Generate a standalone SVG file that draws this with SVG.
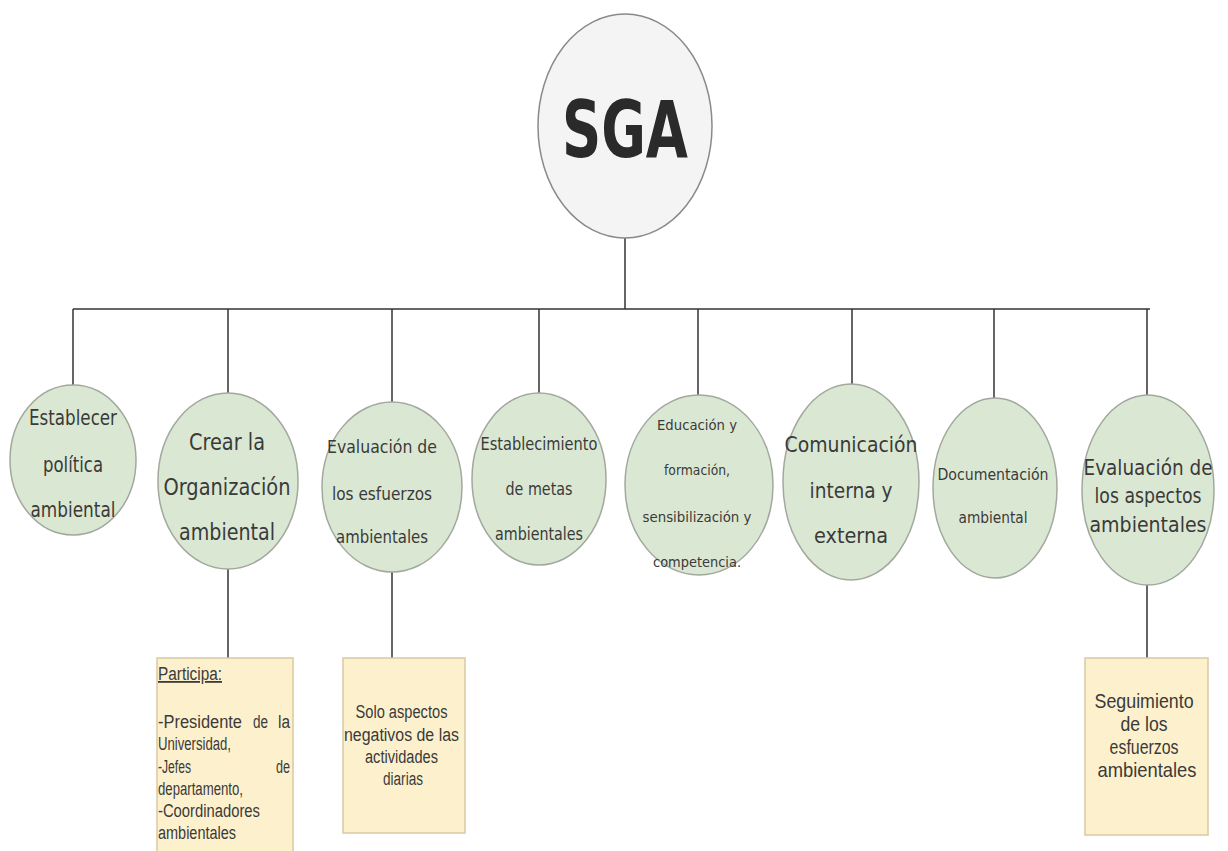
<svg xmlns="http://www.w3.org/2000/svg" width="1228" height="851" viewBox="0 0 1228 851">
<style>
.n{fill:#dae8d3;stroke:#a2a89e;stroke-width:1.5}
.root{fill:#f4f4f4;stroke:#8a8a8a;stroke-width:1.5}
.b{fill:#fdf1cd;stroke:#d8c9a2;stroke-width:1.5}
.t{font-family:"DejaVu Sans Condensed","DejaVu Sans",sans-serif;fill:#3a3a3a;text-anchor:middle}
.bt{font-family:"Liberation Sans",Arial,sans-serif;fill:#3a3a3a}
.c line{stroke:#333;stroke-width:1.5}
</style>
<rect width="1228" height="851" fill="#ffffff"/>
<g class="c" id="connectors">
<line x1="625" y1="238" x2="625" y2="309"/>
<line x1="73" y1="309" x2="1150" y2="309"/>
<line x1="73" y1="309" x2="73" y2="385"/>
<line x1="228" y1="309" x2="228" y2="393"/>
<line x1="392" y1="309" x2="392" y2="403"/>
<line x1="539" y1="309" x2="539" y2="393"/>
<line x1="698" y1="309" x2="698" y2="395"/>
<line x1="852" y1="309" x2="852" y2="384"/>
<line x1="994" y1="309" x2="994" y2="398"/>
<line x1="1147" y1="309" x2="1147" y2="395"/>
<line x1="228" y1="569" x2="228" y2="658"/>
<line x1="392" y1="572" x2="392" y2="658"/>
<line x1="1147" y1="585" x2="1147" y2="658"/>
</g>
<g id="sga">
<ellipse class="root" cx="625" cy="126" rx="87" ry="112"/>
<text x="625" y="157" font-family="'DejaVu Sans',sans-serif" font-weight="bold" font-size="78" fill="#2a2a2a" text-anchor="middle" textLength="126" lengthAdjust="spacingAndGlyphs">SGA</text>
</g>
<g id="n1">
<ellipse class="n" cx="73" cy="460" rx="63" ry="75"/>
<text class="t" font-size="21"><tspan x="73" y="425" textLength="88" lengthAdjust="spacingAndGlyphs">Establecer</tspan><tspan x="73" y="472" textLength="60" lengthAdjust="spacingAndGlyphs">política</tspan><tspan x="73" y="517" textLength="85" lengthAdjust="spacingAndGlyphs">ambiental</tspan></text>
</g>
<g id="n2">
<ellipse class="n" cx="228" cy="481" rx="70" ry="88"/>
<text class="t" font-size="23"><tspan x="227" y="450" textLength="76" lengthAdjust="spacingAndGlyphs">Crear la</tspan><tspan x="227" y="495" textLength="127" lengthAdjust="spacingAndGlyphs">Organización</tspan><tspan x="227" y="540" textLength="96" lengthAdjust="spacingAndGlyphs">ambiental</tspan></text>
</g>
<g id="n3">
<ellipse class="n" cx="392" cy="487" rx="70" ry="85"/>
<text class="t" font-size="18"><tspan x="382" y="453" textLength="110" lengthAdjust="spacingAndGlyphs">Evaluación de</tspan><tspan x="382" y="500" textLength="100" lengthAdjust="spacingAndGlyphs">los esfuerzos</tspan><tspan x="382" y="543" textLength="92" lengthAdjust="spacingAndGlyphs">ambientales</tspan></text>
</g>
<g id="n4">
<ellipse class="n" cx="539" cy="479" rx="67" ry="86"/>
<text class="t" font-size="17"><tspan x="539" y="450" textLength="117" lengthAdjust="spacingAndGlyphs">Establecimiento</tspan><tspan x="539" y="495" textLength="67" lengthAdjust="spacingAndGlyphs">de metas</tspan><tspan x="539" y="540" textLength="88" lengthAdjust="spacingAndGlyphs">ambientales</tspan></text>
</g>
<g id="n5">
<ellipse class="n" cx="699" cy="485" rx="74" ry="90"/>
<text class="t" font-size="14"><tspan x="697" y="430" textLength="80" lengthAdjust="spacingAndGlyphs">Educación y</tspan><tspan x="697" y="475" textLength="66" lengthAdjust="spacingAndGlyphs">formación,</tspan><tspan x="697" y="522" textLength="109" lengthAdjust="spacingAndGlyphs">sensibilización y</tspan><tspan x="697" y="567" textLength="88" lengthAdjust="spacingAndGlyphs">competencia.</tspan></text>
</g>
<g id="n6">
<ellipse class="n" cx="851" cy="482" rx="68" ry="98"/>
<text class="t" font-size="21"><tspan x="851" y="452" textLength="133" lengthAdjust="spacingAndGlyphs">Comunicación</tspan><tspan x="851" y="498" textLength="83" lengthAdjust="spacingAndGlyphs">interna y</tspan><tspan x="851" y="543" textLength="74" lengthAdjust="spacingAndGlyphs">externa</tspan></text>
</g>
<g id="n7">
<ellipse class="n" cx="995" cy="488" rx="62" ry="90"/>
<text class="t" font-size="16"><tspan x="993" y="480" textLength="111" lengthAdjust="spacingAndGlyphs">Documentación</tspan><tspan x="993" y="523" textLength="69" lengthAdjust="spacingAndGlyphs">ambiental</tspan></text>
</g>
<g id="n8">
<ellipse class="n" cx="1148" cy="490" rx="66" ry="95"/>
<text class="t" font-size="21"><tspan x="1148" y="475" textLength="129" lengthAdjust="spacingAndGlyphs">Evaluación de</tspan><tspan x="1148" y="503" textLength="107" lengthAdjust="spacingAndGlyphs">los aspectos</tspan><tspan x="1148" y="532" textLength="117" lengthAdjust="spacingAndGlyphs">ambientales</tspan></text>
</g>
<g id="box1">
<rect class="b" x="157" y="658" width="136" height="200"/>
<text class="bt" font-size="18">
<tspan x="158" y="680" textLength="64" lengthAdjust="spacingAndGlyphs" text-decoration="underline">Participa:</tspan>
<tspan x="158" y="728" textLength="84" lengthAdjust="spacingAndGlyphs">-Presidente</tspan>
<tspan x="253" y="728" textLength="15" lengthAdjust="spacingAndGlyphs">de</tspan>
<tspan x="278" y="728" textLength="12" lengthAdjust="spacingAndGlyphs">la</tspan>
<tspan x="158" y="750" textLength="73" lengthAdjust="spacingAndGlyphs">Universidad,</tspan>
<tspan x="158" y="773" textLength="33" lengthAdjust="spacingAndGlyphs">-Jefes</tspan>
<tspan x="276" y="773" textLength="14" lengthAdjust="spacingAndGlyphs">de</tspan>
<tspan x="158" y="795" textLength="85" lengthAdjust="spacingAndGlyphs">departamento,</tspan>
<tspan x="158" y="817" textLength="102" lengthAdjust="spacingAndGlyphs">-Coordinadores</tspan>
<tspan x="158" y="839" textLength="78" lengthAdjust="spacingAndGlyphs">ambientales</tspan>
</text>
</g>
<g id="box2">
<rect class="b" x="343" y="658" width="122" height="175"/>
<text class="bt" font-size="18" text-anchor="middle">
<tspan x="404" y="718" textLength="92" lengthAdjust="spacingAndGlyphs">Solo aspectos</tspan>
<tspan x="404" y="741" textLength="115" lengthAdjust="spacingAndGlyphs">negativos de las</tspan>
<tspan x="404" y="763" textLength="73" lengthAdjust="spacingAndGlyphs">actividades</tspan>
<tspan x="403" y="785" textLength="40" lengthAdjust="spacingAndGlyphs">diarias</tspan>
</text>
</g>
<g id="box3">
<rect class="b" x="1085" y="658" width="123" height="177"/>
<text class="bt" font-size="21" text-anchor="middle">
<tspan x="1147" y="708" textLength="99" lengthAdjust="spacingAndGlyphs">Seguimiento</tspan>
<tspan x="1147" y="731" textLength="47" lengthAdjust="spacingAndGlyphs">de los</tspan>
<tspan x="1147" y="754" textLength="69" lengthAdjust="spacingAndGlyphs">esfuerzos</tspan>
<tspan x="1147" y="777" textLength="99" lengthAdjust="spacingAndGlyphs">ambientales</tspan>
</text>
</g>
</svg>
